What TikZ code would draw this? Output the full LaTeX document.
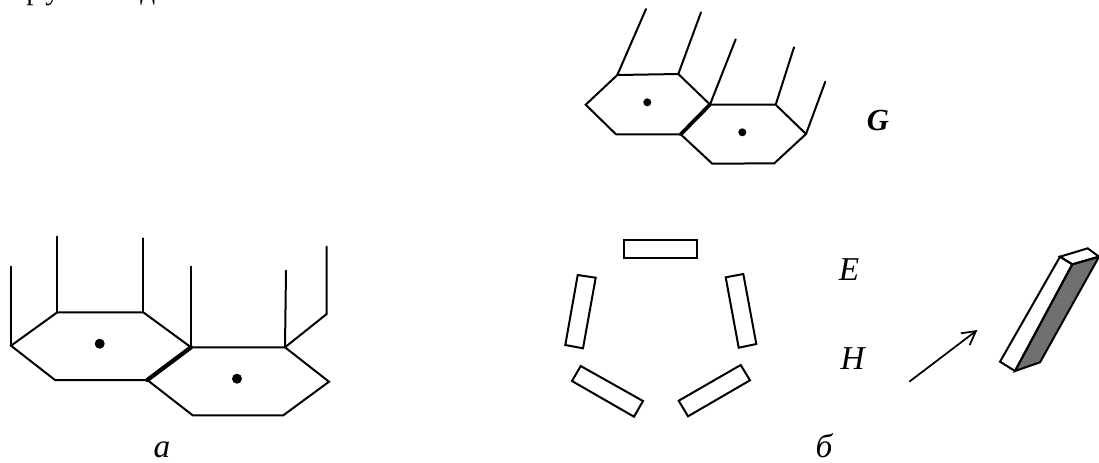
\documentclass[tikz,border=0pt]{standalone}
\usepackage{fontspec}
\setmainfont{Liberation Serif}
\usetikzlibrary{arrows.meta}
\tikzset{
  edge/.style={line width=1.5pt,line join=miter,line cap=round},
  thickedge/.style={line width=3.2pt,line cap=round},
  rectline/.style={line width=1.5pt,line join=miter},
  core/.style={circle,fill=black,inner sep=0pt,minimum size=7.5pt},
  smallcore/.style={circle,fill=black,inner sep=0pt,minimum size=6pt},
  lab/.style={inner sep=0pt,font=\fontsize{25}{28}\selectfont\itshape},
  boldlab/.style={inner sep=0pt,font=\fontsize{23}{26}\selectfont\itshape\bfseries},
  clipped/.style={inner sep=0pt,anchor=base west,font=\fontsize{22}{24}\selectfont},
  hfield/.style={line width=1.3pt,-{Straight Barb[length=10pt,width=11pt,line width=1.3pt]}},
  shaded/.style={fill=black!56},
}
\begin{document}
\begin{tikzpicture}[x=0.75pt,y=-0.75pt]
\useasboundingbox (0,0) rectangle (1099,462);
\begin{scope}
\clip (0,0) rectangle (1099,462);
\node[clipped] (tp) at (26,-0.5) {р};
\node[clipped] (tu) at (45,-0.5) {у};
\node[clipped] (td) at (140,-0.5) {д};
% left pair
\coordinate (a1) at (11,345.7);
\coordinate (a2) at (57.3,312.3);
\coordinate (a3) at (143.3,312.3);
\coordinate (a4) at (191,347.3);
\coordinate (a5) at (147.3,380);
\coordinate (a6) at (55,380);
\coordinate (a7) at (285,347.3);
\coordinate (a8) at (329,381.7);
\coordinate (a9) at (283.3,415.3);
\coordinate (a10) at (192.7,415.3);
\coordinate (v1) at (11,266.7);
\coordinate (v2) at (57.3,236.7);
\coordinate (v3) at (143.3,238.3);
\coordinate (v4) at (191,266.7);
\coordinate (v5) at (286,270.7);
\coordinate (v6) at (326.7,314);
\coordinate (v7) at (326.7,246.7);
\draw[edge] (a4) -- (a3) -- (a2) -- (a1) -- (a6) -- (a5);
\draw[edge] (a4) -- (a7) -- (a8) -- (a9) -- (a10) -- (a5);
\draw[thickedge] (a4) -- (a5);
\draw[edge] (a1) -- (v1);
\draw[edge] (a2) -- (v2);
\draw[edge] (a3) -- (v3);
\draw[edge] (a4) -- (v4);
\draw[edge] (a7) -- (v5);
\draw[edge] (a7) -- (v6) -- (v7);
\node[core] (ad1) at (99.7,343.7) {};
\node[core] (ad2) at (237,378.7) {};
% right pair
\coordinate (g1) at (585.7,104.7);
\coordinate (g2) at (617.3,75);
\coordinate (g3) at (678.3,74);
\coordinate (g4) at (710,104.5);
\coordinate (g5) at (680.7,134.3);
\coordinate (g6) at (616,134.3);
\coordinate (g7) at (775.7,104.7);
\coordinate (g8) at (806,134);
\coordinate (g9) at (774.3,163.3);
\coordinate (g10) at (712.3,163.7);
\coordinate (w1) at (646,9);
\coordinate (w2) at (701,12.3);
\coordinate (w3) at (735.7,39.3);
\coordinate (w4) at (794,47.3);
\coordinate (w5) at (825.3,81.7);
\draw[edge] (g4) -- (g3) -- (g2) -- (g1) -- (g6) -- (g5);
\draw[edge] (g4) -- (g7) -- (g8) -- (g9) -- (g10) -- (g5);
\draw[thickedge,line width=2.8pt] (g4) -- (g5);
\draw[edge] (g2) -- (w1);
\draw[edge] (g3) -- (w2);
\draw[edge] (g4) -- (w3);
\draw[edge] (g7) -- (w4);
\draw[edge] (g8) -- (w5);
\node[smallcore] (gd1) at (647.3,102.3) {};
\node[smallcore] (gd2) at (742.3,132.3) {};
% five plates
\draw[rectline] (624,240) -- (696.7,240) -- (696.7,258.3) -- (624,258.3) -- cycle;
\draw[rectline] (725.7,277.3) -- (743.3,274) -- (756.3,344) -- (738.7,347.7) -- cycle;
\draw[rectline] (577.7,275) -- (595.7,277.7) -- (583,348.3) -- (565.3,345) -- cycle;
\draw[rectline] (580.7,366) -- (643,401) -- (634,416.7) -- (572,381) -- cycle;
\draw[rectline] (740.7,365) -- (750,380.3) -- (688,416.3) -- (678.7,400.7) -- cycle;
% bar
\coordinate (b1) at (1060,256.7);
\coordinate (b2) at (1072.3,264.3);
\coordinate (b3) at (1015,371);
\coordinate (b4) at (1000,361.7);
\coordinate (b5) at (1087.7,248.3);
\coordinate (b6) at (1099,256.7);
\coordinate (b7) at (1040,362.3);
\draw[rectline,shaded] (b2) -- (b6) -- (b7) -- (b3) -- cycle;
\draw[rectline] (b1) -- (b2) -- (b3) -- (b4) -- cycle;
\draw[rectline] (b1) -- (b5) -- (b6) -- (b2) -- cycle;
% field arrow
\coordinate (h1) at (909.3,381.7);
\coordinate (h2) at (977.3,330);
\draw[hfield] (h1) -- (h2);
% labels
\node[boldlab] (G) at (878,120) {G};
\node[lab] (E) at (849,270) {E};
\node[lab] (H) at (852.7,358.3) {H};
\node[lab] (la) at (162,450) {а};
\node[lab] (lb) at (824,446) {б};
\end{scope}
\end{tikzpicture}
\end{document}
